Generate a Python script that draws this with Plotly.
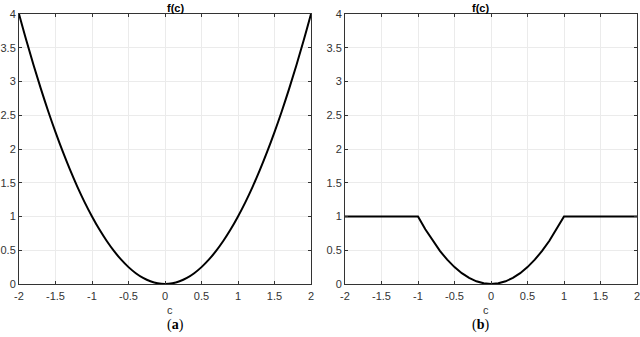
import plotly.graph_objects as go

c_vals = [-2.0, -1.9, -1.8, -1.7, -1.6, -1.5, -1.4, -1.3, -1.2, -1.1, -1.0,
          -0.9, -0.8, -0.7, -0.6, -0.5, -0.4, -0.3, -0.2, -0.1, 0.0,
          0.1, 0.2, 0.3, 0.4, 0.5, 0.6, 0.7, 0.8, 0.9, 1.0,
          1.1, 1.2, 1.3, 1.4, 1.5, 1.6, 1.7, 1.8, 1.9, 2.0]
f_a = [4.0, 3.61, 3.24, 2.89, 2.56, 2.25, 1.96, 1.69, 1.44, 1.21, 1.0,
       0.81, 0.64, 0.49, 0.36, 0.25, 0.16, 0.09, 0.04, 0.01, 0.0,
       0.01, 0.04, 0.09, 0.16, 0.25, 0.36, 0.49, 0.64, 0.81, 1.0,
       1.21, 1.44, 1.69, 1.96, 2.25, 2.56, 2.89, 3.24, 3.61, 4.0]
f_b = [1.0, 1.0, 1.0, 1.0, 1.0, 1.0, 1.0, 1.0, 1.0, 1.0, 1.0,
       0.81, 0.64, 0.49, 0.36, 0.25, 0.16, 0.09, 0.04, 0.01, 0.0,
       0.01, 0.04, 0.09, 0.16, 0.25, 0.36, 0.49, 0.64, 0.81, 1.0,
       1.0, 1.0, 1.0, 1.0, 1.0, 1.0, 1.0, 1.0, 1.0, 1.0]
x_ticks = [-2, -1.5, -1, -0.5, 0, 0.5, 1, 1.5, 2]
x_tick_text = ["-2", "-1.5", "-1", "-0.5", "0", "0.5", "1", "1.5", "2"]
y_ticks = [0, 0.5, 1, 1.5, 2, 2.5, 3, 3.5, 4]
y_tick_text = ["0", "0.5", "1", "1.5", "2", "2.5", "3", "3.5", "4"]
panel_titles = ["f(c)", "f(c)"]
panel_letters = ["a", "b"]
x_label = "c"

fig = go.Figure()
fig.add_trace(go.Scatter(x=c_vals, y=f_a, mode="lines", xaxis="x", yaxis="y",
                         line=dict(color="black", width=2, shape="spline")))
fig.add_trace(go.Scatter(x=c_vals, y=f_b, mode="lines", xaxis="x2", yaxis="y2",
                         line=dict(color="black", width=2)))

font_tick = dict(family="Liberation Sans, Arial, sans-serif", size=11, color="#333333")
axis_common = dict(showgrid=True, gridcolor="#ebebeb", gridwidth=1, zeroline=False,
                   showline=True, linecolor="#333333", linewidth=1, mirror="allticks",
                   ticks="inside", ticklen=3, tickcolor="#333333", tickfont=font_tick,
                   automargin=False, ticklabeloverflow="allow")

ydom = [1 - 284 / 337, 1 - 14 / 337]
xdom1 = [19 / 640, 311 / 640]
xdom2 = [345 / 640, 637 / 640]
fig.update_layout(
    width=640, height=337, margin=dict(l=0, r=0, t=0, b=0, autoexpand=False),
    paper_bgcolor="white", plot_bgcolor="white", showlegend=False,
    xaxis=dict(domain=xdom1, range=[-2, 2], tickvals=x_ticks, ticktext=x_tick_text,
               anchor="y", ticklabelstandoff=2, **axis_common),
    yaxis=dict(domain=ydom, range=[0, 4], tickvals=y_ticks, ticktext=y_tick_text,
               anchor="x", **axis_common),
    xaxis2=dict(domain=xdom2, range=[-2, 2], tickvals=x_ticks, ticktext=x_tick_text,
                anchor="y2", ticklabelstandoff=2, **axis_common),
    yaxis2=dict(domain=ydom, range=[0, 4], tickvals=y_ticks, ticktext=y_tick_text,
                anchor="x2", **axis_common),
)

centers = [(xdom1[0] + xdom1[1]) / 2, (xdom2[0] + xdom2[1]) / 2]
for cx, t, letter in zip(centers, panel_titles, panel_letters):
    fig.add_annotation(x=cx, y=1 - 8 / 337, xref="paper", yref="paper", yanchor="middle",
                       text="<b>" + t + "</b>", showarrow=False,
                       font=dict(family="Liberation Sans, Arial, sans-serif", size=11,
                                 color="black"))
    fig.add_annotation(x=cx, y=1 - 310 / 337, xref="paper", yref="paper", yanchor="middle",
                       text=x_label, showarrow=False, font=font_tick)
    fig.add_annotation(x=cx, y=1 - 325 / 337, xref="paper", yref="paper", yanchor="middle",
                       text="(<b>" + letter + "</b>)", showarrow=False,
                       font=dict(family="Liberation Serif, Times New Roman, serif", size=14,
                                 color="black"))

fig.write_html("out.html", config={"displayModeBar": False},
               post_script="document.body.style.margin='0px';document.body.style.overflow='hidden';")
